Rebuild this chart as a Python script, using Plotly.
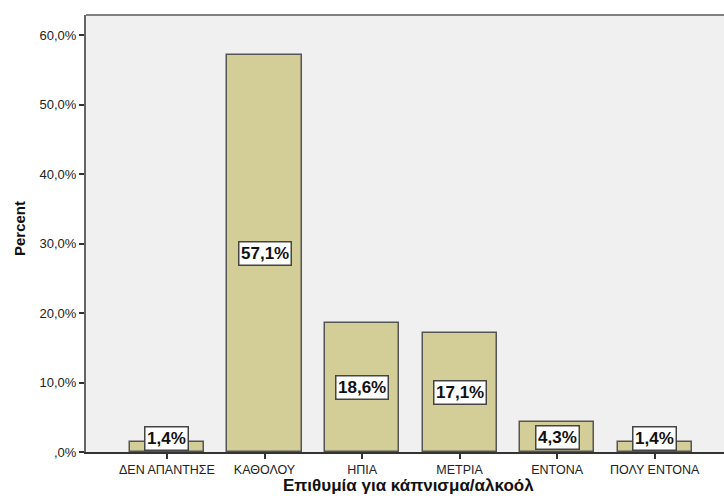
import plotly.graph_objects as go

categories = ["ΔΕΝ ΑΠΑΝΤΗΣΕ", "ΚΑΘΟΛΟΥ", "ΗΠΙΑ", "ΜΕΤΡΙΑ", "ΕΝΤΟΝΑ", "ΠΟΛΥ ΕΝΤΟΝΑ"]
percents = [1.4, 57.1, 18.6, 17.1, 4.3, 1.4]
value_labels = ["1,4%", "57,1%", "18,6%", "17,1%", "4,3%", "1,4%"]
ytick_vals = [0, 10, 20, 30, 40, 50, 60]
ytick_text = [",0%", "10,0%", "20,0%", "30,0%", "40,0%", "50,0%", "60,0%"]

W, H = 724, 496
ml, mr, mt, mb = 86, 0, 15, 44
FONT = "Liberation Sans, Arial"

fig = go.Figure()
fig.add_trace(go.Bar(
    x=list(range(len(categories))), y=percents, width=0.76,
    marker=dict(color="#D3CE97", line=dict(color="#555555", width=1.5)),
    hoverinfo="skip", showlegend=False,
))

for i, (v, t) in enumerate(zip(percents, value_labels)):
    fig.add_annotation(
        x=i, y=max(v / 2, 2.0), text="<b>%s</b>" % t, showarrow=False,
        font=dict(family=FONT, size=17, color="#111111"),
        bgcolor="white", bordercolor="#444444", borderwidth=1.5, borderpad=1.5,
        xref="x", yref="y",
    )

fig.add_annotation(
    x=(408 - ml) / (W - ml - mr), y=-(485 - (H - mb)) / (H - mt - mb), xref="paper", yref="paper",
    text="<b>Επιθυμία για κάπνισμα/αλκοόλ</b>", showarrow=False,
    font=dict(family=FONT, size=17, color="#111111"),
    xanchor="center", yanchor="middle",
)
fig.add_annotation(
    x=-(ml - 19) / (W - ml - mr), y=1 - (229 - mt) / (H - mt - mb),
    xref="paper", yref="paper", text="<b>Percent</b>", showarrow=False,
    textangle=-90, font=dict(family=FONT, size=15, color="#111111"),
    xanchor="center", yanchor="middle",
)

fig.update_layout(
    width=W, height=H, margin=dict(l=ml, r=mr, t=mt, b=mb),
    paper_bgcolor="white", plot_bgcolor="#F0F0F0",
    bargap=0,
    xaxis=dict(
        range=[-0.83, 5.71], tickvals=list(range(len(categories))), ticktext=categories,
        showgrid=False, zeroline=False, showline=True, linecolor="#333333", linewidth=1.5,
        ticks="outside", ticklen=5, tickwidth=1.5, tickcolor="#333333",
        tickfont=dict(family=FONT, size=12.5, color="#222222"),
        fixedrange=True,
    ),
    yaxis=dict(
        range=[0, 62.9], tickvals=ytick_vals, ticktext=ytick_text,
        showgrid=False, zeroline=False, showline=True, linecolor="#666666", linewidth=2,
        ticks="outside", ticklen=5, tickwidth=1.5, tickcolor="#333333",
        tickfont=dict(family=FONT, size=13, color="#222222"),
        fixedrange=True,
    ),
)
fig.add_shape(type="line", xref="paper", yref="paper", x0=0, x1=1, y0=1, y1=1,
              line=dict(color="#808080", width=2))

fig.write_html("out.html")
